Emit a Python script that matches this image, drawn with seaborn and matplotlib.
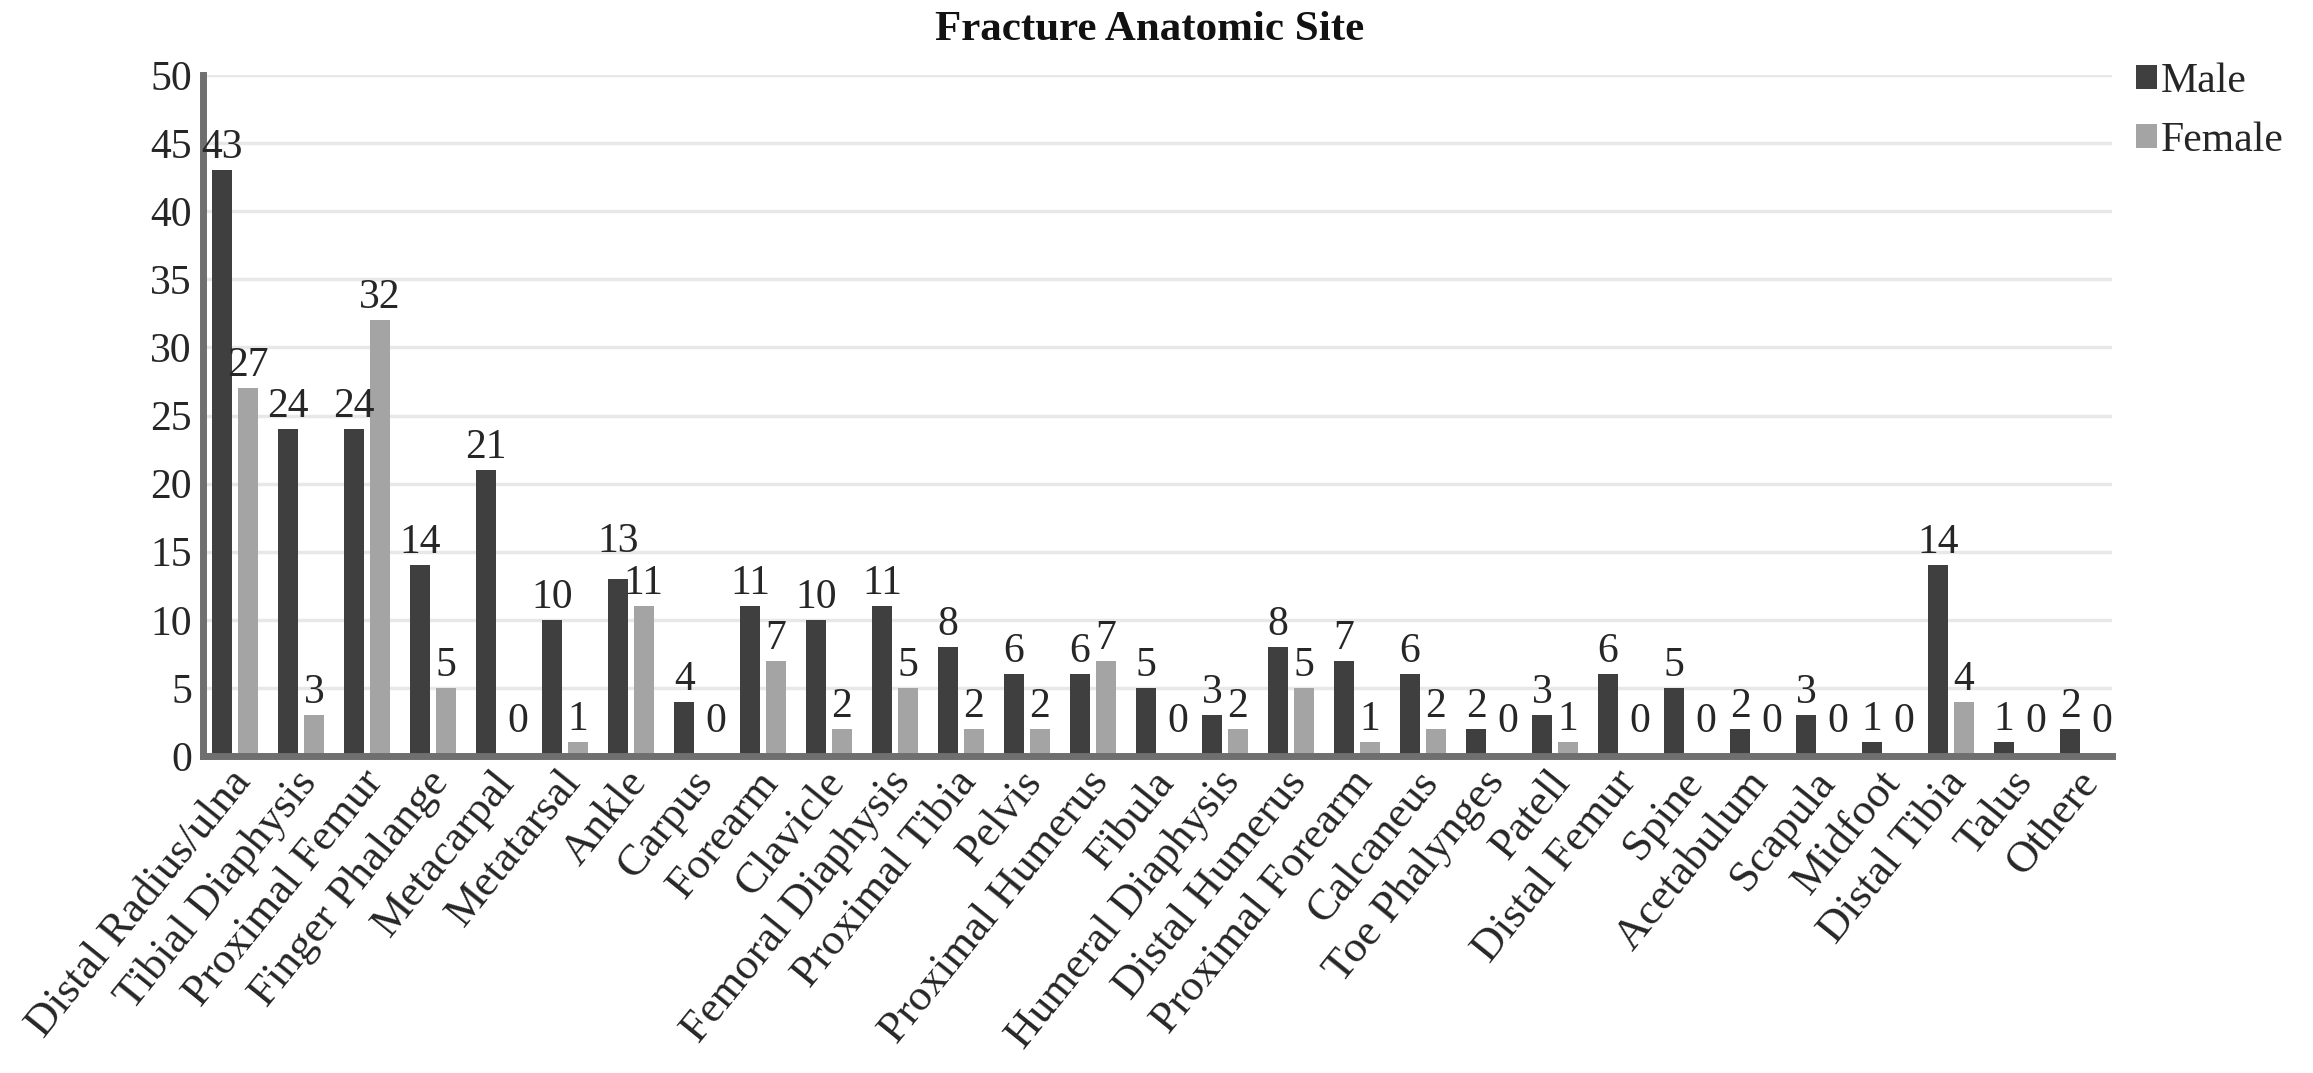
import matplotlib
matplotlib.use("Agg")
import matplotlib.pyplot as plt
import matplotlib.transforms as mtransforms
import seaborn as sns
import pandas as pd

sites = ["Distal Radius/ulna", "Tibial Diaphysis", "Proximal Femur", "Finger Phalange",
         "Metacarpal", "Metatarsal", "Ankle", "Carpus", "Forearm", "Clavicle",
         "Femoral Diaphysis", "Proximal Tibia", "Pelvis", "Proximal Humerus", "Fibula",
         "Humeral Diaphysis", "Distal Humerus", "Proximal Forearm", "Calcaneus",
         "Toe Phalynges", "Patell", "Distal Femur", "Spine", "Acetabulum", "Scapula",
         "Midfoot", "Distal Tibia", "Talus", "Othere"]
male = [43, 24, 24, 14, 21, 10, 13, 4, 11, 10, 11, 8, 6, 6, 5, 3, 8, 7, 6, 2, 3, 6, 5, 2, 3, 1, 14, 1, 2]
female = [27, 3, 32, 5, 0, 1, 11, 0, 7, 2, 5, 2, 2, 7, 0, 2, 5, 1, 2, 0, 1, 0, 0, 0, 0, 0, 4, 0, 0]
series = ["Male", "Female"]
yticks = [0, 5, 10, 15, 20, 25, 30, 35, 40, 45, 50]

df = pd.DataFrame({
    "site": sites * 2,
    "sex": ["Male"] * len(sites) + ["Female"] * len(sites),
    "count": male + female,
})

sns.set_style("white")
plt.rcParams["font.family"] = ["Liberation Serif", "DejaVu Serif"]

W, H = 2313, 1073
fig = plt.figure(figsize=(W / 100, H / 100), dpi=100)
ax = fig.add_axes([203 / W, 1 - 756 / H, (2112 - 203) / W, (756 - 75) / H])

palette = {"Male": "#3f3f3f", "Female": "#a4a4a4"}
sns.barplot(data=df, x="site", y="count", hue="sex", hue_order=series, palette=palette,
            width=0.78, gap=0.23, ax=ax, legend=True, saturation=1, linewidth=0)

ax.set_xlim(-0.485, 28.44)
ax.set_ylim(0, 50)
ax.set_yticks(yticks)
ax.set_xlabel("")
ax.set_ylabel("")
ax.yaxis.grid(True, color="#e8e8e8", linewidth=2.5)
ax.set_axisbelow(True)
for s in ["top", "right"]:
    ax.spines[s].set_visible(False)
for s in ["left", "bottom"]:
    ax.spines[s].set_color("#6f6f6f")
    ax.spines[s].set_linewidth(5)
ax.tick_params(axis="both", length=0, labelcolor="#262626")
ax.tick_params(axis="y", pad=8, labelsize=30)
ax.tick_params(axis="x", pad=14, labelsize=32)
shift = mtransforms.ScaledTranslation(8 / 100, 0, fig.dpi_scale_trans)
for lab in ax.get_xticklabels():
    lab.set_rotation(51)
    lab.set_ha("right")
    lab.set_va("center")
    lab.set_rotation_mode("anchor")
    lab.set_transform(lab.get_transform() + shift)

# value labels
anns = []
for cont in ax.containers:
    row = []
    for bar in cont:
        h = bar.get_height()
        xc = bar.get_x() + bar.get_width() / 2
        off = (4, 25) if h == 0 else (0, 16)
        a = ax.annotate(f"{int(round(h))}", (xc, h), xytext=off, textcoords="offset points",
                        ha="center", va="center", fontsize=30, color="#262626",
                        annotation_clip=False)
        row.append((a, h))
    anns.append(row)

# simple collision avoidance between the two labels of a category
fig.canvas.draw()
r = fig.canvas.get_renderer()
for (am, hm), (af, hf) in zip(anns[0], anns[1]):
    bm = am.get_window_extent(r)
    bf = af.get_window_extent(r)
    if bm.overlaps(bf):
        hi, lo = (am, af) if hm >= hf else (af, am)
        bhi = hi.get_window_extent(r)
        blo = lo.get_window_extent(r)
        shift_px = blo.y1 - bhi.y0 + 4
        ox, oy = hi.xyann
        hi.xyann = (ox, oy + shift_px * 72 / fig.dpi)

fig.text(1150 / W, 1 - 30 / H, "Fracture Anatomic Site", fontsize=31, fontweight="bold",
         color="#111111", ha="center", va="center")

leg = ax.get_legend()
if leg is not None:
    leg.remove()
handles, labels = ax.get_legend_handles_labels()
fig.legend(handles, labels, loc="upper left", bbox_to_anchor=(2136 / W, 1 - 62 / H),
           frameon=False, fontsize=30, handlelength=0.5, handleheight=0.5,
           handletextpad=0.1, labelspacing=0.5, borderpad=0, borderaxespad=0,
           labelcolor="#262626")

fig.savefig("out.png", dpi=100)
